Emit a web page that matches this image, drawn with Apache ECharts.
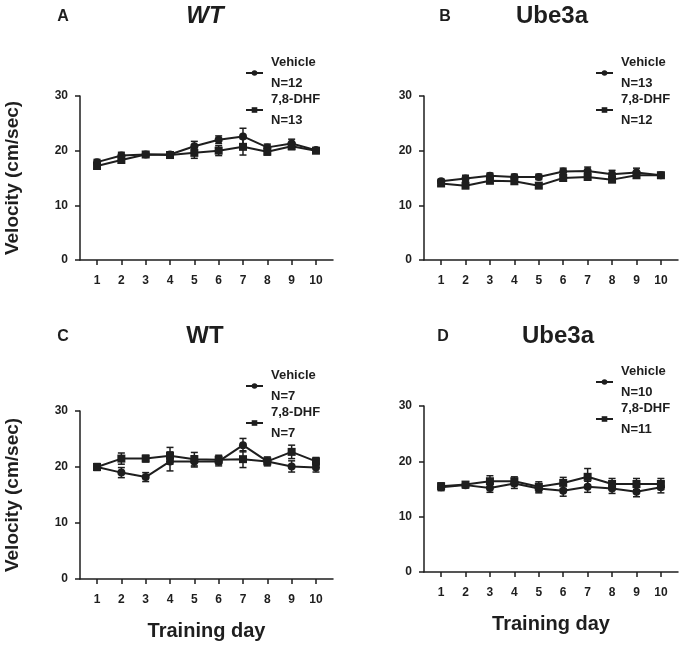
<!DOCTYPE html>
<html>
<head>
<meta charset="utf-8">
<script src="https://cdn.jsdelivr.net/npm/echarts@6/dist/echarts.min.js"></script>
<style>
  html, body { margin: 0; padding: 0; background: #fff; }
  #chart { width: 680px; height: 646px; }
</style>
</head>
<body>
<div id="chart"></div>
<script>
// training days on the x axis
var days = [1, 2, 3, 4, 5, 6, 7, 8, 9, 10]
var yTicks = [0, 10, 20, 30]

// A - WT
var aVehicle = [17.9, 19.1, 19.3, 19.3, 20.8, 22.0, 22.6, 20.6, 21.3, 20.1]
var aVehicleErr = [0.5, 0.6, 0.4, 0.5, 0.9, 0.7, 1.5, 0.6, 0.8, 0.4]
var aDhf = [17.2, 18.3, 19.3, 19.2, 19.6, 20.0, 20.7, 19.8, 20.8, 20.0]
var aDhfErr = [0.5, 0.6, 0.4, 0.5, 1.0, 0.9, 1.5, 0.6, 0.6, 0.5]

// B - Ube3a
var bVehicle = [14.4, 14.9, 15.4, 15.2, 15.2, 16.2, 16.3, 15.7, 16.0, 15.5]
var bVehicleErr = [0.4, 0.6, 0.5, 0.5, 0.5, 0.6, 0.7, 0.7, 0.8, 0.5]
var bDhf = [14.0, 13.6, 14.5, 14.4, 13.6, 15.0, 15.2, 14.7, 15.5, 15.5]
var bDhfErr = [0.4, 0.5, 0.5, 0.5, 0.4, 0.6, 0.6, 0.5, 0.5, 0.5]

// C - WT
var cVehicle = [20.0, 19.0, 18.2, 21.0, 21.0, 21.0, 23.9, 21.0, 20.1, 19.9]
var cVehicleErr = [0.6, 0.9, 0.8, 1.7, 1.0, 0.8, 1.2, 0.8, 1.0, 0.8]
var cDhf = [20.0, 21.5, 21.5, 22.0, 21.4, 21.3, 21.4, 21.0, 22.7, 21.0]
var cDhfErr = [0.6, 1.0, 0.6, 1.5, 1.2, 0.8, 1.5, 0.6, 1.2, 0.7]

// D - Ube3a
var dVehicle = [15.3, 15.7, 15.2, 16.0, 15.1, 14.7, 15.4, 15.1, 14.5, 15.3]
var dVehicleErr = [0.6, 0.5, 0.8, 0.9, 0.8, 1.0, 1.0, 0.9, 0.9, 1.0]
var dDhf = [15.5, 15.8, 16.4, 16.4, 15.4, 16.1, 17.2, 15.9, 15.9, 15.9]
var dDhfErr = [0.6, 0.5, 1.0, 0.8, 0.9, 1.0, 1.5, 1.0, 1.0, 1.0]

var FONT = '"Liberation Sans", Arial, sans-serif'
var INK = '#1e1e1e'

var panels = [
  { letter: 'A', title: 'WT', italic: true, vehicle: aVehicle, vErr: aVehicleErr, dhf: aDhf, dErr: aDhfErr,
    nV: 'N=12', nD: 'N=13', grid: { left: 80, top: 96, width: 253, height: 164 },
    letterPos: [63, 17], titlePos: [205, 16], legendPos: [240, 47], yName: true, xName: false },
  { letter: 'B', title: 'Ube3a', italic: false, vehicle: bVehicle, vErr: bVehicleErr, dhf: bDhf, dErr: bDhfErr,
    nV: 'N=13', nD: 'N=12', grid: { left: 424, top: 96, width: 254, height: 164 },
    letterPos: [445, 17], titlePos: [552, 16], legendPos: [590, 47], yName: false, xName: false },
  { letter: 'C', title: 'WT', italic: false, vehicle: cVehicle, vErr: cVehicleErr, dhf: cDhf, dErr: cDhfErr,
    nV: 'N=7', nD: 'N=7 ', grid: { left: 80, top: 411, width: 253, height: 168 },
    letterPos: [63, 337], titlePos: [205, 336], legendPos: [240, 360], yName: true, xName: true },
  { letter: 'D', title: 'Ube3a', italic: false, vehicle: dVehicle, vErr: dVehicleErr, dhf: dDhf, dErr: dDhfErr,
    nV: 'N=10', nD: 'N=11', grid: { left: 424, top: 406, width: 254, height: 166 },
    letterPos: [443, 337], titlePos: [558, 336], legendPos: [590, 356], yName: false, xName: true }
]

function pairs(vals) {
  return days.map(function (d, i) { return [d, vals[i]] })
}

function errData(vals, errs) {
  return days.map(function (d, i) { return [d, vals[i] - errs[i], vals[i] + errs[i]] })
}

function renderErr(params, api) {
  var lo = api.coord([api.value(0), api.value(1)])
  var hi = api.coord([api.value(0), api.value(2)])
  var w = 3.5
  var st = { stroke: INK, lineWidth: 1.5 }
  return {
    type: 'group',
    children: [
      { type: 'line', shape: { x1: lo[0], y1: lo[1], x2: hi[0], y2: hi[1] }, style: st },
      { type: 'line', shape: { x1: lo[0] - w, y1: lo[1], x2: lo[0] + w, y2: lo[1] }, style: st },
      { type: 'line', shape: { x1: hi[0] - w, y1: hi[1], x2: hi[0] + w, y2: hi[1] }, style: st }
    ]
  }
}

var grids = [], xAxes = [], yAxes = [], series = [], legends = [], graphics = []

panels.forEach(function (p, k) {
  grids.push(p.grid)
  xAxes.push({
    type: 'value', gridIndex: k, min: 0.3, max: 10.7,
    splitLine: { show: false },
    axisLine: { lineStyle: { color: INK, width: 1.5 } },
    axisTick: { length: 5, lineStyle: { color: INK, width: 1.5 }, customValues: days },
    axisLabel: { customValues: days, margin: 15, color: INK, fontFamily: FONT, fontWeight: 'bold', fontSize: 12 },
    name: p.xName ? 'Training day' : '',
    nameLocation: 'middle', nameGap: 42,
    nameTextStyle: { color: INK, fontFamily: FONT, fontWeight: 'bold', fontSize: 20 }
  })
  yAxes.push({
    type: 'value', gridIndex: k, min: 0, max: 30, interval: 10,
    splitLine: { show: false },
    axisLine: { show: true, lineStyle: { color: INK, width: 1.5 } },
    axisTick: { show: true, length: 5, lineStyle: { color: INK, width: 1.5 } },
    axisLabel: { margin: 12, color: INK, fontFamily: FONT, fontWeight: 'bold', fontSize: 12,
      customValues: yTicks },
    name: p.yName ? 'Velocity (cm/sec)' : '',
    nameLocation: 'middle', nameGap: 58, nameRotate: 90,
    nameTextStyle: { color: INK, fontFamily: FONT, fontWeight: 'bold', fontSize: 19 }
  })

  var vName = 'Vehicle\n' + p.nV
  var dName = '7,8-DHF\n' + p.nD

  series.push({
    type: 'custom', xAxisIndex: k, yAxisIndex: k, renderItem: renderErr,
    data: errData(p.vehicle, p.vErr), z: 3, silent: true
  })
  series.push({
    type: 'custom', xAxisIndex: k, yAxisIndex: k, renderItem: renderErr,
    data: errData(p.dhf, p.dErr), z: 3, silent: true
  })
  series.push({
    name: vName, type: 'line', xAxisIndex: k, yAxisIndex: k,
    data: pairs(p.vehicle), symbol: 'circle', symbolSize: 8,
    lineStyle: { color: INK, width: 2 }, itemStyle: { color: INK }, z: 4
  })
  series.push({
    name: dName, type: 'line', xAxisIndex: k, yAxisIndex: k,
    data: pairs(p.dhf), symbol: 'rect', symbolSize: 8,
    lineStyle: { color: INK, width: 2 }, itemStyle: { color: INK }, z: 4
  })

  legends.push({
    left: p.legendPos[0], top: p.legendPos[1], orient: 'vertical',
    data: [vName, dName],
    itemWidth: 17, itemHeight: 7, itemGap: -5,
    selectedMode: false,
    textStyle: { color: INK, fontFamily: FONT, fontWeight: 'bold', fontSize: 13, lineHeight: 21,
      padding: [0, 0, 0, 3] }
  })

  graphics.push({
    type: 'text', x: p.letterPos[0], y: p.letterPos[1],
    style: { text: p.letter, fill: INK, font: 'bold 16px ' + FONT, textAlign: 'center', textVerticalAlign: 'middle' }
  })
  graphics.push({
    type: 'text', x: p.titlePos[0], y: p.titlePos[1],
    style: { text: p.title, fill: INK, font: (p.italic ? 'italic ' : '') + 'bold 24px ' + FONT,
      textAlign: 'center', textVerticalAlign: 'middle' }
  })
})

var chart = echarts.init(document.getElementById('chart'), null, { renderer: 'canvas' })
chart.setOption({
  animation: false,
  backgroundColor: '#fff',
  grid: grids,
  xAxis: xAxes,
  yAxis: yAxes,
  legend: legends,
  series: series,
  graphic: graphics
})
</script>
</body>
</html>
